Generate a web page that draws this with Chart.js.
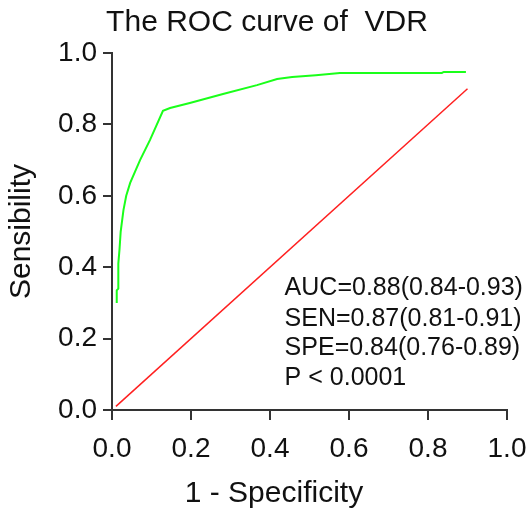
<!DOCTYPE html>
<html>
<head>
<meta charset="utf-8">
<title>ROC curve of VDR</title>
<script src="https://cdn.jsdelivr.net/npm/chart.js@4.4.1/dist/chart.umd.min.js"></script>
<style>
    body { margin: 0; background: #fff; }
    canvas { display: block; }
</style>
</head>
<body>
<canvas id="rocChart" width="528" height="510"></canvas>
<script>
// ROC curve (1 - specificity, sensitivity)
var rocX = [0.012, 0.012, 0.016, 0.016, 0.019, 0.022, 0.029, 0.036, 0.046, 0.071, 0.096, 0.129, 0.147, 0.197, 0.281, 0.367, 0.418, 0.456, 0.516, 0.577, 0.835, 0.840, 0.896];
var rocY = [0.300, 0.335, 0.340, 0.410, 0.450, 0.500, 0.560, 0.600, 0.636, 0.700, 0.756, 0.838, 0.846, 0.860, 0.885, 0.910, 0.927, 0.933, 0.938, 0.944, 0.944, 0.947, 0.947];

// reference diagonal
var refX = [0.01, 0.90];
var refY = [0.01, 0.90];

var tickValues = [0, 0.2, 0.4, 0.6, 0.8, 1.0];

var statLines = ['AUC=0.88(0.84-0.93)', 'SEN=0.87(0.81-0.91)', 'SPE=0.84(0.76-0.89)', 'P < 0.0001'];
var statPosX = 0.437;
var statPosY = [0.342, 0.255, 0.172, 0.088];

// x axis title sits a bit left of the axis middle in the original
var xTitle = '1 - Specificity';
var xTitleAt = 0.41;

var fontName = 'Arial, "Liberation Sans", sans-serif';
var axisColor = '#333';

function toPoints(xs, ys) {
    var pts = [];
    for (var i = 0; i < xs.length; i++) {
        pts.push({ x: xs[i], y: ys[i] });
    }
    return pts;
}

// writes the AUC / SEN / SPE block and the x title
var extraText = {
    id: 'extraText',
    afterDraw: function (chart) {
        var ctx = chart.ctx;
        var xs = chart.scales.x;
        var ys = chart.scales.y;
        ctx.save();
        ctx.fillStyle = '#111';
        ctx.textBaseline = 'middle';
        ctx.font = '25px ' + fontName;
        ctx.textAlign = 'left';
        for (var i = 0; i < statLines.length; i++) {
            ctx.fillText(statLines[i], xs.getPixelForValue(statPosX), ys.getPixelForValue(statPosY[i]));
        }
        ctx.font = '30px ' + fontName;
        ctx.textAlign = 'center';
        ctx.fillText(xTitle, xs.getPixelForValue(xTitleAt), xs.bottom - 16);
        ctx.restore();
    }
};

var ctx = document.getElementById('rocChart').getContext('2d');
var rocChart = new Chart(ctx, {
    type: 'scatter',
    data: {
        datasets: [{
            label: 'VDR',
            data: toPoints(rocX, rocY),
            showLine: true,
            borderColor: '#1aff1a',
            borderWidth: 2,
            pointRadius: 0,
            tension: 0
        }, {
            label: 'Reference',
            data: toPoints(refX, refY),
            showLine: true,
            borderColor: '#ff2020',
            borderWidth: 1.5,
            pointRadius: 0
        }]
    },
    options: {
        responsive: false,
        maintainAspectRatio: false,
        animation: false,
        // left/right padding also centres the title over x = 267
        layout: { padding: { top: 0, right: 21, left: 27, bottom: 0 } },
        plugins: {
            legend: { display: false },
            tooltip: { enabled: false },
            title: {
                display: true,
                text: 'The ROC curve of  VDR',
                color: '#111',
                font: { family: fontName, size: 30, weight: 'normal' },
                padding: { top: 5, bottom: 12 }
            }
        },
        scales: {
            x: {
                type: 'linear',
                min: 0,
                max: 1,
                afterBuildTicks: function (scale) {
                    scale.ticks = tickValues.map(function (v) { return { value: v }; });
                },
                ticks: {
                    callback: function (v) { return Number(v).toFixed(1); },
                    color: '#111',
                    font: { family: fontName, size: 28 },
                    padding: 12,
                    maxRotation: 0
                },
                grid: { drawOnChartArea: false, drawTicks: true, tickLength: 10, color: axisColor, lineWidth: 2 },
                border: { color: axisColor, width: 2 },
                title: { display: false },
                afterFit: function (scale) {
                    scale.height = 100;
                    // the end labels may hang into the layout padding
                    scale.paddingLeft = 0;
                    scale.paddingRight = 0;
                }
            },
            y: {
                type: 'linear',
                min: 0,
                max: 1,
                afterBuildTicks: function (scale) {
                    scale.ticks = tickValues.map(function (v) { return { value: v }; });
                },
                ticks: {
                    callback: function (v) { return Number(v).toFixed(1); },
                    color: '#111',
                    font: { family: fontName, size: 28 },
                    padding: 6
                },
                grid: { drawOnChartArea: false, drawTicks: true, tickLength: 9, color: axisColor, lineWidth: 2 },
                border: { color: axisColor, width: 2 },
                title: {
                    display: true,
                    text: 'Sensibility',
                    color: '#111',
                    font: { family: fontName, size: 30 },
                    padding: { top: -23, bottom: 0 }
                },
                afterFit: function (scale) { scale.width = 85; }
            }
        }
    },
    plugins: [extraText]
});
</script>
</body>
</html>
